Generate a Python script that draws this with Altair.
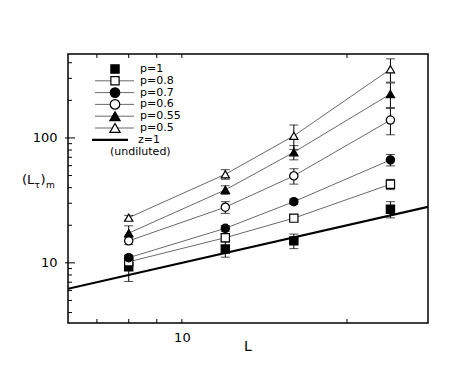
import altair as alt
import pandas as pd

# ---- data ----
L_values = [8, 12, 16, 24]
series_labels = ["p=1", "p=0.8", "p=0.7", "p=0.6", "p=0.55", "p=0.5"]
y_p1 = [9.3, 12.9, 15.0, 26.9]
y_p08 = [10.2, 15.9, 22.8, 42.6]
y_p07 = [11.0, 18.9, 30.9, 66.7]
y_p06 = [15.0, 27.9, 49.7, 139.0]
y_p055 = [17.3, 38.4, 76.8, 225.0]
y_p05 = [23.0, 51.2, 104.0, 355.0]
err_p1 = [2.2, 1.8, 2.0, 4.0]
err_p08 = [0.5, 1.0, 1.0, 4.0]
err_p07 = [0.5, 1.0, 1.5, 7.0]
err_p06 = [1.0, 3.0, 7.0, 33.0]
err_p055 = [2.5, 3.0, 10.0, 50.0]
err_p05 = [1.0, 4.5, 23.0, 75.0]
z1_L = [6.2, 28.1]          # z=1 (undiluted) line: (L_tau)_m = L
z1_y = [6.2, 28.1]
x_tick_vals = [7, 8, 9, 10, 20]
y_minor_vals = [4, 5, 6, 7, 8, 9, 20, 30, 40, 50, 60, 70, 80, 90, 200, 300, 400]
y_major_vals = [10, 100]

series_y = [y_p1, y_p08, y_p07, y_p06, y_p055, y_p05]
series_err = [err_p1, err_p08, err_p07, err_p06, err_p055, err_p05]
shapes = ["square", "square", "circle", "circle", "triangle-up", "triangle-up"]
fills = ["black", "white", "black", "white", "black", "white"]
sizes = [68, 68, 90, 90, 105, 105]

rows = []
for lab, ys_, es_ in zip(series_labels, series_y, series_err):
    for Lv, yv, ev in zip(L_values, ys_, es_):
        rows.append({"p": lab, "L": Lv, "y": yv, "lo": yv - ev, "hi": yv + ev})
df = pd.DataFrame(rows)
df_lines = df[df["p"] != "p=1"]
z_df = pd.DataFrame({"L": z1_L, "y": z1_y})
one = pd.DataFrame({"a": [0]})

W, H = 360, 269
FONT = "DejaVu Sans"
xs = alt.Scale(type="log", domain=[6.2, 28.1], nice=False)
ysc = alt.Scale(type="log", domain=[3.3, 470], nice=False)
xaxis = alt.Axis(values=[10], format="d", ticks=False, domain=False, grid=False,
                 labelFontSize=13, labelFont=FONT, labelPadding=8, labelColor="black")
yaxis = alt.Axis(values=[10, 100], format="d", ticks=False, domain=False, grid=False,
                 labelFontSize=13, labelFont=FONT, labelPadding=11, labelColor="black")


def X(f):
    return alt.X(f, type="quantitative", scale=xs, axis=xaxis, title=None)


def Y(f):
    return alt.Y(f, type="quantitative", scale=ysc, axis=yaxis, title=None)


lines = alt.Chart(df_lines).mark_line(color="#444", strokeWidth=0.8).encode(
    x=X("L"), y=Y("y"), detail="p:N")
err = alt.Chart(df).mark_rule(color="black", strokeWidth=1).encode(
    x=X("L"), y=Y("lo"), y2="hi")
cap_lo = alt.Chart(df).mark_tick(orient="horizontal", size=9, thickness=1, color="black").encode(
    x=X("L"), y=Y("lo"))
cap_hi = alt.Chart(df).mark_tick(orient="horizontal", size=9, thickness=1, color="black").encode(
    x=X("L"), y=Y("hi"))
zline = alt.Chart(z_df).mark_line(color="black", strokeWidth=2.2, clip=True).encode(
    x=X("L"), y=Y("y"))
pts = alt.Chart(df).mark_point(filled=True, stroke="black", strokeWidth=1.2, opacity=1).encode(
    x=X("L"), y=Y("y"),
    shape=alt.Shape("p:N", scale=alt.Scale(domain=series_labels, range=shapes), legend=None),
    fill=alt.Fill("p:N", scale=alt.Scale(domain=series_labels, range=fills), legend=None),
    size=alt.Size("p:N", scale=alt.Scale(domain=series_labels, range=sizes), legend=None),
)

# inward ticks
tdf_x = pd.DataFrame({"v": x_tick_vals})
tdf_ymin = pd.DataFrame({"v": y_minor_vals})
tdf_ymaj = pd.DataFrame({"v": y_major_vals})
tick_top = alt.Chart(tdf_x).mark_rule(color="black", strokeWidth=1).encode(
    x=X("v"), y=alt.value(0), y2=alt.value(4))
tick_bot = alt.Chart(tdf_x).mark_rule(color="black", strokeWidth=1).encode(
    x=X("v"), y=alt.value(H), y2=alt.value(H - 4))
tick_ymin = alt.Chart(tdf_ymin).mark_rule(color="black", strokeWidth=1).encode(
    y=Y("v"), x=alt.value(0), x2=alt.value(4))
tick_ymaj = alt.Chart(tdf_ymaj).mark_rule(color="black", strokeWidth=1).encode(
    y=Y("v"), x=alt.value(-3), x2=alt.value(7))

# legend (inside plot, top-left)
leg = []
row0, dy = 15, 11.8
for i, lab in enumerate(series_labels):
    yy = row0 + dy * i
    if lab != "p=1":
        leg.append(alt.Chart(one).mark_rule(color="#444", strokeWidth=0.8).encode(
            x=alt.value(27), x2=alt.value(66), y=alt.value(yy)))
    leg.append(alt.Chart(one).mark_point(filled=True, stroke="black", strokeWidth=1.2,
                                         opacity=1, shape=shapes[i], fill=fills[i],
                                         size=sizes[i]).encode(
        x=alt.value(47), y=alt.value(yy)))
    leg.append(alt.Chart(one).mark_text(text=lab, align="left", baseline="middle",
                                        font=FONT, fontSize=11, color="black").encode(
        x=alt.value(72), y=alt.value(yy)))
yz = row0 + dy * 6
leg.append(alt.Chart(one).mark_rule(color="black", strokeWidth=2.2).encode(
    x=alt.value(24), x2=alt.value(60), y=alt.value(yz)))
leg.append(alt.Chart(one).mark_text(text="z=1", align="left", baseline="middle",
                                    font=FONT, fontSize=11, color="black").encode(
    x=alt.value(70), y=alt.value(yz)))
leg.append(alt.Chart(one).mark_text(text="(undiluted)", align="left", baseline="middle",
                                    font=FONT, fontSize=11, color="black").encode(
    x=alt.value(42), y=alt.value(yz + dy)))

# axis titles
titles = [
    alt.Chart(one).mark_text(text="L", align="center", baseline="middle", font=FONT,
                             fontSize=14, color="black").encode(
        x=alt.value(W / 2), y=alt.value(293)),
    alt.Chart(one).mark_text(text="(L", align="left", baseline="alphabetic", font=FONT,
                             fontSize=13, color="black").encode(
        x=alt.value(-46), y=alt.value(130)),
    alt.Chart(one).mark_text(text="\u03c4", align="left", baseline="alphabetic", font=FONT,
                             fontSize=9, color="black").encode(
        x=alt.value(-33.5), y=alt.value(134)),
    alt.Chart(one).mark_text(text=")", align="left", baseline="alphabetic", font=FONT,
                             fontSize=13, color="black").encode(
        x=alt.value(-27.5), y=alt.value(130)),
    alt.Chart(one).mark_text(text="m", align="left", baseline="alphabetic", font=FONT,
                             fontSize=9, color="black").encode(
        x=alt.value(-22), y=alt.value(134)),
]

chart = alt.layer(
    lines, zline, err, cap_lo, cap_hi, pts,
    tick_top, tick_bot, tick_ymin, tick_ymaj,
    *leg, *titles
).properties(
    width=W, height=H,
    autosize=alt.AutoSizeParams(type="none"),
    padding={"left": 60, "top": 46, "right": 10, "bottom": 45},
    background="white",
).configure_view(stroke="black", strokeWidth=1.5)

chart.save("out.html", embed_options={"renderer": "svg", "actions": False})
